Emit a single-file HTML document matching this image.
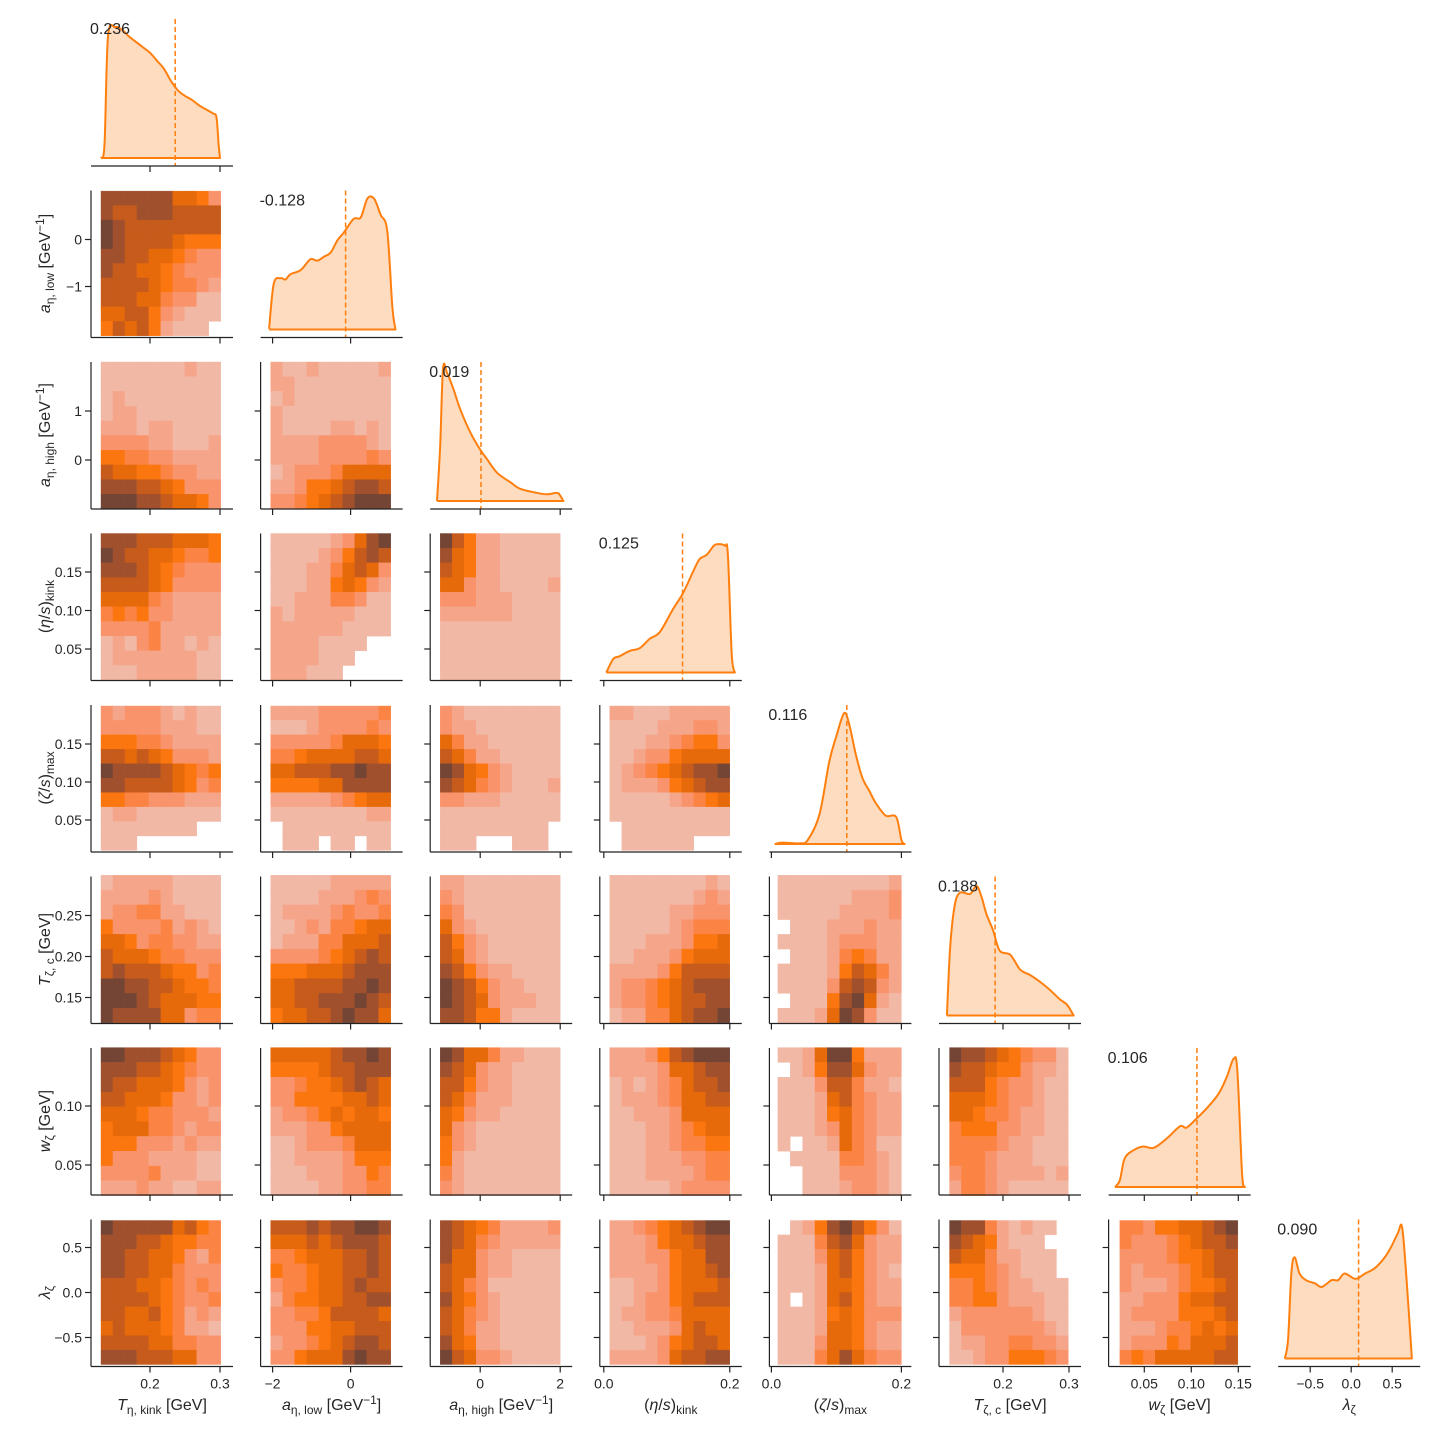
<!DOCTYPE html>
<html><head><meta charset="utf-8"><style>
html,body{margin:0;padding:0;background:#fff;}
svg{display:block;font-family:"Liberation Sans",sans-serif;}
</style></head><body>
<svg id="fig" width="1440" height="1440" viewBox="0 0 1440 1440" xmlns="http://www.w3.org/2000/svg"></svg>
<script>
// ---------- data ----------
const medians = [0.236,-0.128,0.019,0.125,0.116,0.188,0.106,0.090];
const medianLabels = ["0.236","-0.128","0.019","0.125","0.116","0.188","0.106","0.090"];
const varRanges = [[0.13,0.301],[-2.05,1.03],[-1,2],[0.0095,0.2],[0.01,0.2],[0.119,0.299],[0.024,0.1495],[-0.8,0.8]];
const xTickVals = [[0.2,0.3],[-2,0],[0,2],[0,0.2],[0,0.2],[0.2,0.3],[0.05,0.10,0.15],[-0.5,0,0.5]];
const xTickLabels = [["0.2","0.3"],["\u22122","0"],["0","2"],["0.0","0.2"],["0.0","0.2"],["0.2","0.3"],["0.05","0.10","0.15"],["\u22120.5","0.0","0.5"]];
const yTickVals = [[],[0,-1],[1,0],[0.15,0.10,0.05],[0.15,0.10,0.05],[0.25,0.20,0.15],[0.10,0.05],[0.5,0,-0.5]];
const yTickLabels = [[],["0","\u22121"],["1","0"],["0.15","0.10","0.05"],["0.15","0.10","0.05"],["0.25","0.20","0.15"],["0.10","0.05"],["0.5","0.0","\u22120.5"]];

const kdeX0 = [0.13,0.135,0.14,0.15,0.16,0.17,0.18,0.19,0.2,0.21,0.22,0.23,0.24,0.25,0.26,0.27,0.28,0.29,0.295,0.298,0.3];
const kdeY0 = [0,0.1,0.9,0.97,0.95,0.9,0.86,0.82,0.78,0.72,0.66,0.57,0.5,0.46,0.43,0.39,0.36,0.33,0.3,0.1,0];
const kdeX1 = [-2.09,-1.97,-1.79,-1.67,-1.54,-1.28,-1.03,-0.85,-0.68,-0.51,-0.34,-0.17,0.08,0.26,0.43,0.60,0.77,0.94,1.07,1.15];
const kdeY1 = [0.005,0.34,0.38,0.37,0.41,0.44,0.52,0.51,0.54,0.57,0.66,0.72,0.82,0.83,0.97,0.97,0.85,0.73,0.17,0];
const kdeX2 = [-1.08,-1.0,-0.93,-0.83,-0.67,-0.5,-0.25,0,0.17,0.42,0.75,1.0,1.42,1.67,1.92,2.0,2.08];
const kdeY2 = [0,0.41,0.98,0.95,0.83,0.68,0.51,0.38,0.31,0.21,0.14,0.09,0.06,0.05,0.06,0.04,0];
const kdeX3 = [0.004,0.015,0.025,0.041,0.057,0.073,0.089,0.11,0.126,0.142,0.152,0.163,0.173,0.179,0.192,0.197,0.203,0.208];
const kdeY3 = [0,0.1,0.12,0.16,0.18,0.25,0.30,0.47,0.59,0.75,0.84,0.87,0.93,0.95,0.94,0.87,0.14,0];
const kdeX4 = [0.005,0.017,0.043,0.056,0.074,0.089,0.1,0.112,0.12,0.13,0.14,0.151,0.161,0.176,0.192,0.2,0.205];
const kdeY4 = [0,0.01,0.005,0.03,0.22,0.61,0.80,0.97,0.88,0.66,0.49,0.39,0.30,0.21,0.20,0.03,0];
const kdeX5 = [0.115,0.12,0.127,0.135,0.15,0.16,0.168,0.175,0.185,0.195,0.211,0.226,0.241,0.256,0.271,0.286,0.297,0.307];
const kdeY5 = [0,0.51,0.82,0.91,0.90,0.96,0.87,0.75,0.63,0.48,0.45,0.34,0.30,0.25,0.19,0.12,0.08,0];
const kdeX6 = [0.0188,0.024,0.029,0.038,0.049,0.06,0.074,0.088,0.095,0.106,0.116,0.129,0.138,0.145,0.149,0.154,0.157];
const kdeY6 = [0,0.05,0.21,0.27,0.30,0.29,0.36,0.45,0.44,0.51,0.58,0.69,0.82,0.95,0.86,0.10,0];
const kdeX7 = [-0.81,-0.77,-0.73,-0.69,-0.63,-0.55,-0.44,-0.36,-0.24,-0.16,-0.08,0.05,0.17,0.29,0.41,0.49,0.57,0.62,0.67,0.74];
const kdeY7 = [0,0.14,0.63,0.75,0.63,0.58,0.556,0.53,0.58,0.58,0.63,0.59,0.63,0.67,0.75,0.83,0.93,0.975,0.63,0];
const kdeXs = [kdeX0,kdeX1,kdeX2,kdeX3,kdeX4,kdeX5,kdeX6,kdeX7];
const kdeYs = [kdeY0,kdeY1,kdeY2,kdeY3,kdeY4,kdeY5,kdeY6,kdeY7];

const heat_1_0 = ["8888886653","8778887777","9877777777","9877776555","8877665433","8776654333","7777654432","7776643311","6677532111","5767521110"];
const heat_2_0 = ["1111111211","1111111111","1211111111","1221111111","2221221111","3333221112","5544332222","7665543322","8887765333","9998876653"];
const heat_2_1 = ["2112111112","2211111111","1211111111","2111111111","2111122121","2222333321","2222333343","1233346666","2235567887","3345678999"];
const heat_3_0 = ["8887776665","9877665445","8887654333","7777653333","6666432222","4545332222","3333422222","1213422121","1222222211","1112222211"];
const heat_3_1 = ["1111123689","1111235787","1112246763","1112256532","1122244311","2122222111","2222221111","2222111100","2222111000","2221110000"];
const heat_3_2 = ["9752211111","8652211111","7652211111","6632211112","3332221111","2222221111","1111111111","1111111111","1111111111","1111111111"];
const heat_4_0 = ["3233321211","3333322211","5554432222","7767653332","9888876545","8877776534","5544333222","1221111111","1111111100","1110000000"];
const heat_4_1 = ["2222333334","1112333343","3333346665","4456666776","6677788988","5555668888","2222234566","1111111122","0111111111","0111011011"];
const heat_4_2 = ["3211111111","3221111111","6422111111","7642211111","9865321111","8764321112","3322211111","1111111111","1111111110","1110001110"];
const heat_4_3 = ["2211122222","1111222332","1112234553","1123356666","1234567889","1222356788","1111123456","1111111111","0111111111","0111111000"];
const heat_5_0 = ["1222221111","2222321111","2334422111","5333342321","6653443322","7666544333","7877765534","9988776554","9998766655","9888866344"];
const heat_5_1 = ["1111122222","1111222343","1222234334","1123244566","1222446667","3333456787","5556667888","6677778898","6677888987","5667789886"];
const heat_5_2 = ["2211111111","3211111111","4311111111","6321111111","7532111111","7632111111","8753221111","9875322111","9876322211","8875521111"];
const heat_5_3 = ["1111111121","1111111232","1111122333","1111123444","1112223556","1122235666","2222357777","2334567888","2334567788","1224467889"];
const heat_5_4 = ["1111111112","1111112223","1111122223","0111222322","1111233322","0111245422","1111257642","1111378732","0111589621","1112698311"];
const heat_6_0 = ["9988876533","8887765433","8776665323","7766653323","6665443332","5666443233","5553332322","5333222211","3333422211","2223221122"];
const heat_6_1 = ["6666678898","5555677888","3345567876","3355556676","2334565665","2223356666","1123334666","1122223555","1112223354","1111223344"];
const heat_6_2 = ["9866422111","8763221111","7753221111","7642221111","6532211111","6321111111","5321111111","5211111111","4211111111","3211111111"];
const heat_6_3 = ["2223578999","2222366788","1212346778","1222346677","1122236666","1112234566","1112234455","1112223344","1112222344","1111123333"];
const heat_6_4 = ["1126995222","0125886322","1113774221","1112674322","1112564322","1112364322","1011264311","0111144321","0011133321","0011123321"];
const heat_6_5 = ["9887654331","8776553221","7775433211","6665433211","6654432211","4555332211","4444322111","4443222111","3443222212","2443211111"];
const heat_7_0 = ["9888886754","8887765544","8877665324","8877664333","7776654343","7777654334","7766754232","6766654221","7777664433","8887776633"];
const heat_7_1 = ["7778788998","6667678887","4456667787","5445667787","3445667877","2455667788","3344577776","3335566777","2334567887","3356668988"];
const heat_7_2 = ["8765422223","8764322222","8663221111","7663221111","7643111111","8653211111","7643211111","7642211111","8652211111","9763321111"];
const heat_7_3 = ["2234567899","2223566788","2223356688","2222356678","1122356667","1123356777","1223346666","1122236766","1112356776","2222367788"];
const heat_7_4 = ["0125897531","1114786322","1113675322","1112675321","1112665322","1012675322","1112565333","1112665322","1113665322","1114686433"];
const heat_7_5 = ["9884212110","8765211100","7664221110","5554321110","4454322111","4455322211","2333333211","1333333321","1223344332","1123355543"];
const heat_7_6 = ["4435566789","4333456778","3333455677","3233345677","3222345567","2233356677","2333355567","2223445656","2333546667","4546666677"];
const heatRows = [1,2,2,3,3,3,4,4,4,4,5,5,5,5,5,6,6,6,6,6,6,7,7,7,7,7,7,7];
const heatCols = [0,0,1,0,1,2,0,1,2,3,0,1,2,3,4,0,1,2,3,4,5,0,1,2,3,4,5,6];
const heatData = [heat_1_0,heat_2_0,heat_2_1,heat_3_0,heat_3_1,heat_3_2,heat_4_0,heat_4_1,heat_4_2,heat_4_3,
  heat_5_0,heat_5_1,heat_5_2,heat_5_3,heat_5_4,heat_6_0,heat_6_1,heat_6_2,heat_6_3,heat_6_4,heat_6_5,
  heat_7_0,heat_7_1,heat_7_2,heat_7_3,heat_7_4,heat_7_5,heat_7_6];

// ---------- geometry / scales ----------
const palette = ['none','#f2b8a6','#f5a68a','#f8936b','#fb8444','#fb760f','#e6690a','#c65b1b','#a0502c','#744535'];
const colX = c => 91 + 169.6*c;
const rowY = r => 19 + 171.5*r;
const xScaleP = [[0.2,59,700],[0,90,39],[0,50,40],[0,4,630],[0,2,650],[0.2,64,660],[0.05,35.7,940],[0,73,82]];
const yScaleP = [null,[0,49,47],[0,98,49],[0.1,77,770],[0.1,77,760],[0.2,80,820],[0.1,58,1180],[0,73,90]];
const xs = (v,val) => xScaleP[v][1] + (val - xScaleP[v][0])*xScaleP[v][2];
const ys = (v,val) => yScaleP[v][1] - (val - yScaleP[v][0])*yScaleP[v][2];

const NS = "http://www.w3.org/2000/svg";
const svg = document.getElementById('fig');
function mk(tag, attrs, parent){
  const e = document.createElementNS(NS, tag);
  for (const k in attrs) e.setAttribute(k, attrs[k]);
  (parent||svg).appendChild(e);
  return e;
}
const TXT = '#262626';

// ---------- heatmaps ----------
for (let h=0; h<heatData.length; h++){
  const r = heatRows[h], c = heatCols[h];
  const x0 = colX(c), y0 = rowY(r);
  const g = mk('g', {});
  
  
  const [xl,xh] = varRanges[c], [yl,yh] = varRanges[r];
  const rows = heatData[h];
  for (let i=0;i<10;i++){
    for (let j=0;j<10;j++){
      const lv = +rows[i][j];
      if (!lv) continue;
      const va = xl + (xh-xl)*j/10, vb = xl + (xh-xl)*(j+1)/10;
      const wa = yh - (yh-yl)*i/10, wb = yh - (yh-yl)*(i+1)/10;
      const px = x0 + xs(c,va), px2 = x0 + xs(c,vb);
      const py = y0 + ys(r,wa), py2 = y0 + ys(r,wb);
      const rc = mk('rect', {x:px.toFixed(2), y:py.toFixed(2), width:(px2-px).toFixed(2), height:(py2-py).toFixed(2), fill:palette[lv], stroke:palette[lv], 'stroke-width':0.4}, g);
      
      
    }
  }
}

// smooth path through points (Catmull-Rom)
function smoothPath(pts){
  let d = 'M' + pts[0][0].toFixed(2) + ',' + pts[0][1].toFixed(2);
  for (let i=0;i<pts.length-1;i++){
    const p0 = pts[Math.max(0,i-1)], p1 = pts[i], p2 = pts[i+1], p3 = pts[Math.min(pts.length-1,i+2)];
    const c1x = p1[0] + (p2[0]-p0[0])/6, c1y = p1[1] + (p2[1]-p0[1])/6;
    const c2x = p2[0] - (p3[0]-p1[0])/6, c2y = p2[1] - (p3[1]-p1[1])/6;
    d += ` C${c1x.toFixed(2)},${c1y.toFixed(2)} ${c2x.toFixed(2)},${c2y.toFixed(2)} ${p2[0].toFixed(2)},${p2[1].toFixed(2)}`;
  }
  return d;
}

// ---------- diagonal KDEs ----------
for (let d=0; d<8; d++){
  const x0 = colX(d), y0 = rowY(d);
  const base = y0 + 139;
  const g = mk('g', {});
  
  
  const X = kdeXs[d], Y = kdeYs[d];
  let pts = [];
  for (let i=0;i<X.length;i++) pts.push([x0 + xs(d, X[i]), base - Y[i]*135]);
  const dLine = smoothPath(pts);
  const area = mk('path', {d: dLine + ` L${pts[pts.length-1][0].toFixed(2)},${base} L${pts[0][0].toFixed(2)},${base} Z`, fill:'#fddcc0', stroke:'none'}, g);
  
  
  const line = mk('path', {d: dLine + ` L${pts[pts.length-1][0].toFixed(2)},${base} L${pts[0][0].toFixed(2)},${base}`, fill:'none', stroke:'#ff7f0e', 'stroke-width':2, 'stroke-linejoin':'round'}, g);
  
  
  const mx = x0 + xs(d, medians[d]);
  const ml = mk('line', {x1:mx, x2:mx, y1:y0, y2:y0+147, stroke:'#ff7f0e', 'stroke-width':1.5, 'stroke-dasharray':'5,3'}, g);
  
  
  const t = mk('text', {x:x0-1, y:y0+15, 'font-size':16, fill:TXT}, g);
  t.textContent = medianLabels[d];
  
  
}

// ---------- axes ----------
for (let r=0;r<8;r++){
  for (let c=0;c<=r;c++){
    const x0 = colX(c), y0 = rowY(r), yb = y0+147;
    const g = mk('g', {});
    
    
    mk('line', {x1:x0, x2:x0+142, y1:yb, y2:yb, stroke:'#222', 'stroke-width':1.2}, g);
    xTickVals[c].forEach((v,i)=>{
      const tx = x0 + xs(c,v);
      mk('line', {x1:tx, x2:tx, y1:yb, y2:yb+6, stroke:'#222', 'stroke-width':1.2}, g);
      if (r===7){
        const t = mk('text', {x:tx, y:yb+22, 'font-size':14, fill:TXT, 'text-anchor':'middle'}, g);
        t.textContent = xTickLabels[c][i];
        
        
      }
    });
    if (c!==r){
      mk('line', {x1:x0, x2:x0, y1:y0, y2:yb, stroke:'#222', 'stroke-width':1.2}, g);
      yTickVals[r].forEach((v,i)=>{
        const ty = y0 + ys(r,v);
        mk('line', {x1:x0-6, x2:x0, y1:ty, y2:ty, stroke:'#222', 'stroke-width':1.2}, g);
        if (c===0){
          const t = mk('text', {x:x0-9, y:ty+5, 'font-size':14, fill:TXT, 'text-anchor':'end'}, g);
          t.textContent = yTickLabels[r][i];
          
          
        }
      });
    }
  }
}

// ---------- axis titles ----------
const labelHTML = [
  '<tspan font-style="italic">T</tspan><tspan font-size="12" dy="4">η, kink</tspan><tspan dy="-4"> [GeV]</tspan>',
  '<tspan font-style="italic">a</tspan><tspan font-size="12" dy="4">η, low</tspan><tspan dy="-4"> [GeV</tspan><tspan font-size="12" dy="-6">−1</tspan><tspan dy="6">]</tspan>',
  '<tspan font-style="italic">a</tspan><tspan font-size="12" dy="4">η, high</tspan><tspan dy="-4"> [GeV</tspan><tspan font-size="12" dy="-6">−1</tspan><tspan dy="6">]</tspan>',
  '(<tspan font-style="italic">η</tspan>/<tspan font-style="italic">s</tspan>)<tspan font-size="12" dy="4">kink</tspan>',
  '(<tspan font-style="italic">ζ</tspan>/<tspan font-style="italic">s</tspan>)<tspan font-size="12" dy="4">max</tspan>',
  '<tspan font-style="italic">T</tspan><tspan font-size="12" dy="4">ζ, c</tspan><tspan dy="-4"> [GeV]</tspan>',
  '<tspan font-style="italic">w</tspan><tspan font-size="12" dy="4">ζ</tspan><tspan dy="-4"> [GeV]</tspan>',
  '<tspan font-style="italic">λ</tspan><tspan font-size="12" dy="4">ζ</tspan>'
];
const axNames = ['t-eta-kink','a-eta-low','a-eta-high','eta-s-kink','zeta-s-max','t-zeta-c','w-zeta','lambda-zeta'];
for (let c=0;c<8;c++){
  const t = mk('text', {x:colX(c)+71, y:1410, 'font-size':16, fill:TXT, 'text-anchor':'middle'});
  t.innerHTML = labelHTML[c];
  
  
}
for (let r=1;r<8;r++){
  const cy = rowY(r)+73;
  const t = mk('text', {x:0, y:0, 'font-size':16, fill:TXT, 'text-anchor':'middle', transform:`translate(50,${cy}) rotate(-90)`});
  t.innerHTML = labelHTML[r];
  
  
}
</script>
</body></html>
